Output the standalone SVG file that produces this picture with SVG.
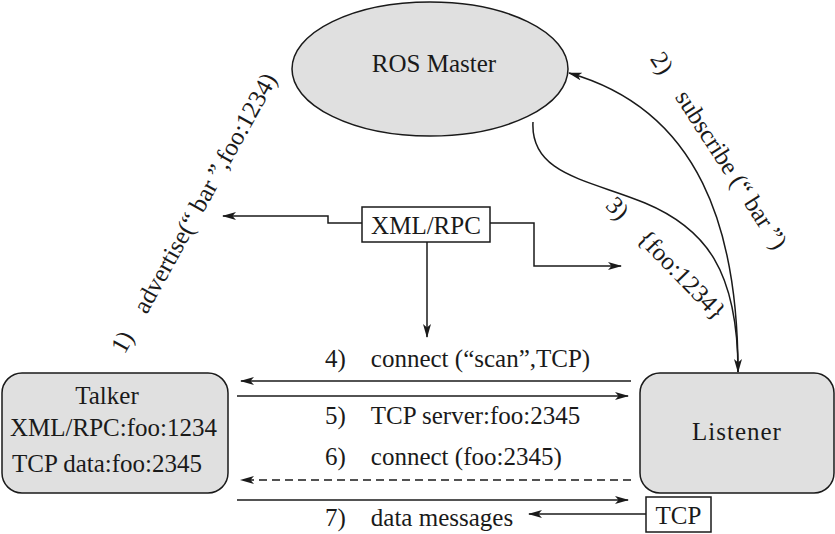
<svg xmlns="http://www.w3.org/2000/svg" width="835" height="534" viewBox="0 0 835 534">
<defs>
<marker id="ah" viewBox="0 0 14 8" refX="13" refY="4" markerWidth="14" markerHeight="8" markerUnits="userSpaceOnUse" orient="auto">
<path d="M0,0 L14,4 L0,8 L3.5,4 z" fill="#1a1a1a"/>
</marker>
<style>
.t{font-size:25px;fill:#1a1a1a}
.node{fill:#e0e0e0;stroke:#1a1a1a;stroke-width:1.5}
.box{fill:#ffffff;stroke:#1a1a1a;stroke-width:1.5}
.c{fill:none;stroke:#1a1a1a;stroke-width:1.5}
.a{marker-end:url(#ah)}
.d{stroke-dasharray:8 5}
</style>
</defs>
<rect width="835" height="534" fill="#ffffff"/>
<g id="ros-master">
<ellipse class="node" cx="430" cy="69" rx="138" ry="67"/>
<text class="t" font-family="Liberation Serif, serif" x="434" y="72" text-anchor="middle" font-size="26">ROS Master</text>
</g>
<g id="talker">
<rect class="node" x="2" y="373" width="226" height="120" rx="20" ry="20"/>
<text class="t" font-family="Liberation Serif, serif" x="107" y="404" text-anchor="middle">Talker</text>
<text class="t" font-family="Liberation Serif, serif" x="10" y="436">XML/RPC:foo:1234</text>
<text class="t" font-family="Liberation Serif, serif" x="12" y="472">TCP data:foo:2345</text>
</g>
<g id="listener">
<rect class="node" x="640" y="373" width="194" height="120" rx="20" ry="20"/>
<text class="t" font-family="Liberation Serif, serif" x="737" y="440" text-anchor="middle" letter-spacing="1">Listener</text>
</g>
<g id="xmlrpc">
<rect class="box" x="362" y="207" width="128" height="35"/>
<text class="t" font-family="Liberation Serif, serif" x="426" y="234" text-anchor="middle">XML/RPC</text>
</g>
<g id="tcp">
<rect class="box" x="646" y="497" width="65" height="35"/>
<text class="t" font-family="Liberation Serif, serif" x="678.5" y="524" text-anchor="middle">TCP</text>
</g>
<g id="connectors">
<path class="c a" d="M738,372 C738,230 700,110 569,73"/>
<path class="c a" d="M533,122 C530,175 590,180 645,203 C705,228 738,270 738,372"/>
<path class="c a" d="M362,223 L328,223 L328,216 L223,216"/>
<path class="c a" d="M490,223 L534,223 L534,266 L621,266"/>
<path class="c a" d="M427,242 L427,337"/>
<path class="c a" d="M631,381 L241,381"/>
<path class="c a" d="M237,396 L628,396"/>
<path class="c a d" d="M631,480 L241,480"/>
<path class="c a" d="M237,500 L628,500"/>
<path class="c a" d="M646,514 L529,514"/>
</g>
<g id="labels">
<text class="t" font-family="Liberation Serif, serif" transform="translate(201,217) rotate(-61)" text-anchor="middle">1)&#8195;advertise(“ bar ”,foo:1234)</text>
<text class="t" font-family="Liberation Serif, serif" transform="translate(712,155) rotate(57)" text-anchor="middle">2)&#8195;subscribe (“ bar ”)</text>
<text class="t" font-family="Liberation Serif, serif" transform="translate(660,264) rotate(46)" text-anchor="middle">3)&#8195;{foo:1234}</text>
<text class="t" font-family="Liberation Serif, serif" x="325" y="367">4)&#8195;connect (“scan”,TCP)</text>
<text class="t" font-family="Liberation Serif, serif" x="325" y="424">5)&#8195;TCP server:foo:2345</text>
<text class="t" font-family="Liberation Serif, serif" x="325" y="465">6)&#8195;connect (foo:2345)</text>
<text class="t" font-family="Liberation Serif, serif" x="325" y="526">7)&#8195;data messages</text>
</g>
</svg>
